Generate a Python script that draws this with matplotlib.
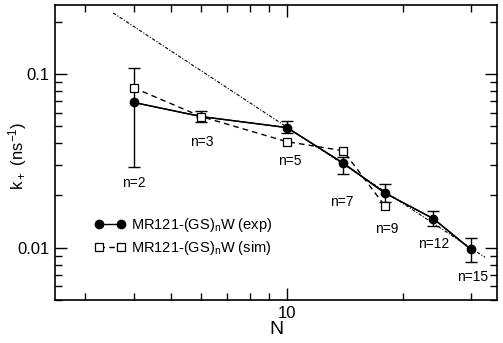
import matplotlib
matplotlib.use('Agg')
import matplotlib.pyplot as plt
from matplotlib.ticker import NullFormatter, LogLocator

plt.rcParams['font.family'] = ['Liberation Sans', 'DejaVu Sans']
plt.rcParams['mathtext.default'] = 'regular'

# data: N = 2n
n_labels = ['n=2', 'n=3', 'n=5', 'n=7', 'n=9', 'n=12', 'n=15']
N_exp = [4, 6, 10, 14, 18, 24, 30]
k_exp = [0.0687, 0.0569, 0.0492, 0.0307, 0.0206, 0.0147, 0.0098]
k_exp_lo = [0.0290, 0.0528, 0.0456, 0.0266, 0.0183, 0.0133, 0.00824]
k_exp_hi = [0.1078, 0.0613, 0.0537, 0.0335, 0.0233, 0.0162, 0.01138]

N_sim = [4, 6, 10, 14, 18]
k_sim = [0.0834, 0.0569, 0.0408, 0.0362, 0.0173]

# power-law guide line end points
N_fit = [3.54, 32.7]
k_fit = [0.225, 0.0088]

# label offsets (pixels) from each exp point
label_off = [(0, -81), (0, -25), (3, -33), (-1, -39), (1, -36), (0, -25), (2, -28)]

fig = plt.figure(figsize=(5.03, 3.43), dpi=100)
ax = fig.add_axes([0.1093, 0.1254, 0.8787, 0.86])

ax.plot(N_fit, k_fit, color='black', lw=0.8, dashes=[3, 1.5, 1, 1.5])

yerr = [[k - lo for k, lo in zip(k_exp, k_exp_lo)],
        [hi - k for k, hi in zip(k_exp, k_exp_hi)]]
ax.errorbar(N_exp, k_exp, yerr=yerr, color='black', lw=1.0, capsize=4,
            capthick=1.0, elinewidth=1.0, zorder=2)
ax.plot(N_exp, k_exp, '-', color='black', lw=1.0, marker='o', ms=6,
        label='MR121-(GS)$_n$W (exp)', zorder=3)
ax.plot(N_sim, k_sim, color='black', lw=1.0, dashes=[4, 3], marker='s', ms=6,
        mfc='white', mew=0.9, label='MR121-(GS)$_n$W (sim)', zorder=4)

for lab, x, y, off in zip(n_labels, N_exp, k_exp, label_off):
    ax.annotate(lab, (x, y), xytext=off, textcoords='offset pixels',
                ha='center', va='center', fontsize=10)

ax.set_xscale('log')
ax.set_yscale('log')
ax.set_xlim(2.5, 35.1)
ax.set_ylim(0.005, 0.25)

ax.set_xticks([10])
ax.set_xticklabels(['10'])
ax.xaxis.set_minor_locator(LogLocator(base=10, subs=range(2, 10)))
ax.xaxis.set_minor_formatter(NullFormatter())
ax.set_yticks([0.01, 0.1])
ax.set_yticklabels(['0.01', '0.1'])
ax.yaxis.set_minor_locator(LogLocator(base=10, subs=range(2, 10)))
ax.yaxis.set_minor_formatter(NullFormatter())

ax.tick_params(which='both', direction='in', top=True, right=True,
               labelsize=12, width=1.0)
ax.tick_params(which='major', length=8.5, pad=4)
ax.tick_params(which='minor', length=5)
for s in ax.spines.values():
    s.set_linewidth(1.2)

ax.set_xlabel('N', fontsize=14, labelpad=0)
ax.set_ylabel('k$_+$ (ns$^{-1}$)', fontsize=12)
ax.yaxis.set_label_coords(-0.058, 0.49)

ax.legend(loc='upper left', bbox_to_anchor=(0.076, 0.305), frameon=False,
          fontsize=10.5, numpoints=2, handlelength=2.1, handletextpad=0.4,
          labelspacing=0.35, borderaxespad=0)

fig.savefig('out.png', dpi=100)
plt.close(fig)
